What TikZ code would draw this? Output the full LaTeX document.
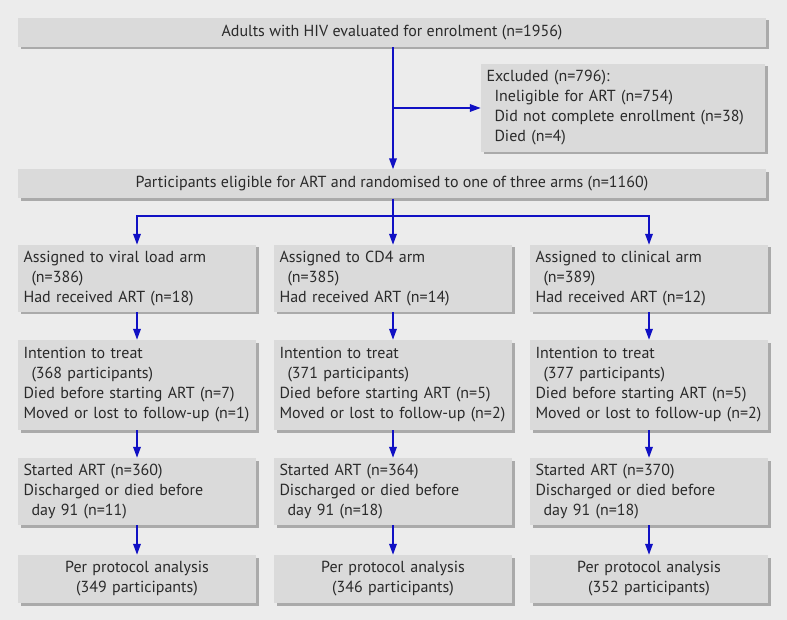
\documentclass[tikz,border=0pt]{standalone}
\usepackage{fontspec}
\setmainfont{PT Sans}
\usetikzlibrary{arrows.meta,shadows,calc}
\definecolor{bg}{HTML}{ECECEC}
\definecolor{boxfill}{HTML}{DADADA}
\definecolor{shade}{HTML}{AAAAAA}
\definecolor{flow}{RGB}{16,16,196}
\definecolor{txt}{HTML}{2A2A2A}
\tikzset{
  box/.style={fill=boxfill, draw=none, text=txt, inner xsep=5.5pt, inner ysep=0pt,
    general shadow={fill=shade, shadow xshift=2.5pt, shadow yshift=-2.5pt},
    font=\fontsize{16}{20}\selectfont},
  lbox/.style={box, align=left, text width=227pt, minimum width=238pt},
  cbox/.style={box, align=center, text width=227pt, minimum width=238pt},
  wbox/.style={box, align=center, minimum width=748pt, minimum height=29pt},
  arr/.style={draw=flow, line width=1.8pt, -{Triangle[length=11pt,width=7.5pt]}},
  ln/.style={draw=flow, line width=1.8pt}
}
\newcommand{\ind}{\hspace*{0.5em}}
\begin{document}
\begin{tikzpicture}[x=1pt,y=-1pt]
\useasboundingbox (0,0) rectangle (787,620);
\fill[bg] (0,0) rectangle (787,620);

\node[wbox] (top) at (392,32.5) {Adults with HIV evaluated for enrolment (n=1956)};
\node[box, align=left, text width=273pt, minimum width=284pt, minimum height=88pt] (excl) at (623,108)
  {Excluded (n=796):\\ \ind Ineligible for ART (n=754)\\ \ind Did not complete enrollment (n=38)\\ \ind Died (n=4)};
\node[wbox] (elig) at (392,184) {Participants eligible for ART and randomised to one of three arms (n=1160)};

% column 1
\node[lbox, minimum height=67pt] (a1) at (137,278.5) {Assigned to viral load arm\\ \ind(n=386)\\ Had received ART (n=18)};
\node[lbox, minimum height=90pt] (a2) at (137,385) {Intention to treat\\ \ind(368 participants)\\ Died before starting ART (n=7)\\ Moved or lost to follow-up (n=1)};
\node[lbox, minimum height=67pt] (a3) at (137,491.5) {Started ART (n=360)\\ Discharged or died before\\ \ind day 91 (n=11)};
\node[cbox, minimum height=48pt] (a4) at (137,579) {Per protocol analysis\\ (349 participants)};

% column 2
\node[lbox, minimum height=67pt] (b1) at (393,278.5) {Assigned to CD4 arm\\ \ind(n=385)\\ Had received ART (n=14)};
\node[lbox, minimum height=90pt] (b2) at (393,385) {Intention to treat\\ \ind(371 participants)\\ Died before starting ART (n=5)\\ Moved or lost to follow-up (n=2)};
\node[lbox, minimum height=67pt] (b3) at (393,491.5) {Started ART (n=364)\\ Discharged or died before\\ \ind day 91 (n=18)};
\node[cbox, minimum height=48pt] (b4) at (393,579) {Per protocol analysis\\ (346 participants)};

% column 3
\node[lbox, minimum height=67pt] (c1) at (649,278.5) {Assigned to clinical arm\\ \ind(n=389)\\ Had received ART (n=12)};
\node[lbox, minimum height=90pt] (c2) at (649,385) {Intention to treat\\ \ind(377 participants)\\ Died before starting ART (n=5)\\ Moved or lost to follow-up (n=2)};
\node[lbox, minimum height=67pt] (c3) at (649,491.5) {Started ART (n=370)\\ Discharged or died before\\ \ind day 91 (n=18)};
\node[cbox, minimum height=48pt] (c4) at (649,579) {Per protocol analysis\\ (352 participants)};

% connectors
\coordinate (tj) at (top.south -| b1.north);
\coordinate (ej) at (tj |- excl.west);
\draw[arr] (tj) -- (tj |- elig.north);
\draw[arr] (ej) -- (excl.west);
\coordinate (sj) at ($(elig.south -| b1.north)+(0,17)$);
\draw[ln] (elig.south -| b1.north) -- (sj);
\draw[arr] (sj) -| (a1.north);
\draw[arr] (sj) -| (c1.north);
\draw[arr] (sj) -- (b1.north);
\foreach \c in {a,b,c}{
  \draw[arr] (\c1.south) -- (\c2.north);
  \draw[arr] (\c2.south) -- (\c3.north);
  \draw[arr] (\c3.south) -- (\c4.north);
}
\end{tikzpicture}
\end{document}
